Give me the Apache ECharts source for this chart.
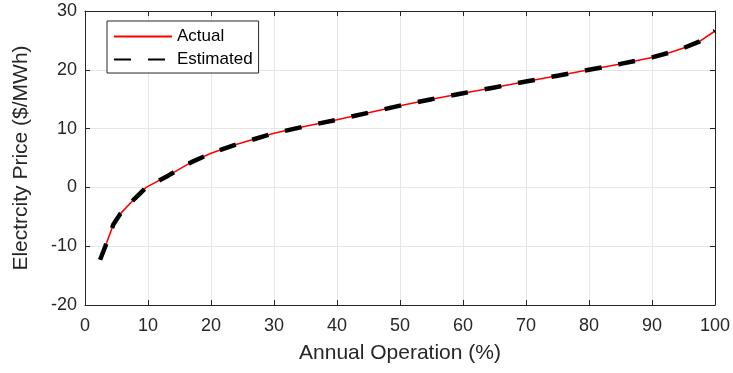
<!DOCTYPE html>
<html><head><meta charset="utf-8">
<script src="https://cdn.jsdelivr.net/npm/echarts@6/dist/echarts.min.js"></script>
<style>html,body{margin:0;padding:0;background:#fff}#c{width:733px;height:373px}</style>
</head><body><div id="c"></div>
<script>
const operation = [2.4, 3.2, 4.5, 5.6, 7.9, 9.7, 13.2, 16.9, 20, 23.7, 30, 35, 40, 45, 50, 55, 60, 65, 70, 75, 80, 85, 90, 93, 95, 97.5, 100];
const actualPrice = [-12.3, -10.1, -6.3, -4.5, -1.9, 0, 2.0, 4.3, 5.8, 7.2, 9.2, 10.4, 11.5, 12.7, 13.9, 15.0, 16.0, 17.0, 18.0, 19.0, 20.0, 21.0, 22.1, 23.0, 23.7, 24.8, 26.6];
const estimatedPrice = [-12.3, -10.1, -6.3, -4.5, -1.9, 0, 2.0, 4.3, 5.8, 7.2, 9.2, 10.4, 11.5, 12.7, 13.9, 15.0, 16.0, 17.0, 18.0, 19.0, 20.0, 21.0, 22.1, 23.0, 23.7, 24.8, 26.6];
const xTicks = [0, 10, 20, 30, 40, 50, 60, 70, 80, 90, 100];
const yTicks = [-20, -10, 0, 10, 20, 30];

const FONT = '"Liberation Sans", Arial, sans-serif';
const AX = '#262626';
const chart = echarts.init(document.getElementById('c'));
const pairs = (xs, ys) => xs.map((x, i) => [x, ys[i]]);
const axisBase = {
  type: 'value',
  axisLine: { show: true, onZero: false, lineStyle: { color: AX, width: 1 } },
  axisTick: { show: true, inside: true, length: 5, lineStyle: { color: AX } },
  splitLine: { show: false }
};
chart.setOption({
  animation: false,
  grid: { left: 85, right: 16, top: 11, bottom: 68, containLabel: false },
  xAxis: [
    Object.assign({}, axisBase, {
      min: xTicks[0], max: xTicks[xTicks.length - 1], interval: 10, position: 'bottom',
      axisLabel: { color: AX, fontSize: 18, fontFamily: FONT, margin: 12 },
      splitLine: { show: true, lineStyle: { color: '#e6e6e6', width: 1 } },
      name: 'Annual Operation (%)', nameLocation: 'middle', nameGap: 38,
      nameTextStyle: { color: AX, fontSize: 21, fontFamily: FONT }
    }),
    Object.assign({}, axisBase, {
      min: xTicks[0], max: xTicks[xTicks.length - 1], interval: 10, position: 'top',
      axisLabel: { show: false }
    })
  ],
  yAxis: [
    Object.assign({}, axisBase, {
      min: yTicks[0], max: yTicks[yTicks.length - 1], interval: 10, position: 'left',
      axisLabel: { color: AX, fontSize: 18, fontFamily: FONT, margin: 8 },
      splitLine: { show: true, lineStyle: { color: '#e6e6e6', width: 1 } },
      name: 'Electrcity Price ($/MWh)', nameLocation: 'middle', nameGap: 53,
      nameTextStyle: { color: AX, fontSize: 21, fontFamily: FONT }
    }),
    Object.assign({}, axisBase, {
      min: yTicks[0], max: yTicks[yTicks.length - 1], interval: 10, position: 'right',
      axisLabel: { show: false }
    })
  ],
  legend: {
    left: 107, top: 21, orient: 'vertical',
    backgroundColor: '#fff', borderColor: AX, borderWidth: 1,
    padding: [7, 6, 5, 6], itemWidth: 58, itemHeight: 17, itemGap: 6,
    itemStyle: { opacity: 0 },
    textStyle: { color: '#000', fontSize: 17, fontFamily: FONT },
    data: ['Actual', 'Estimated']
  },
  series: [
    {
      name: 'Actual', type: 'line', symbol: 'none', z: 2,
      data: pairs(operation, actualPrice),
      lineStyle: { color: '#ff0000', width: 1.6 }, itemStyle: { color: '#ff0000' }
    },
    {
      name: 'Estimated', type: 'line', symbol: 'none', z: 3,
      data: pairs(operation, estimatedPrice),
      lineStyle: { color: '#000', width: 4.5, type: [17, 17], cap: 'butt' }, itemStyle: { color: '#000' }
    }
  ]
});
</script></body></html>
